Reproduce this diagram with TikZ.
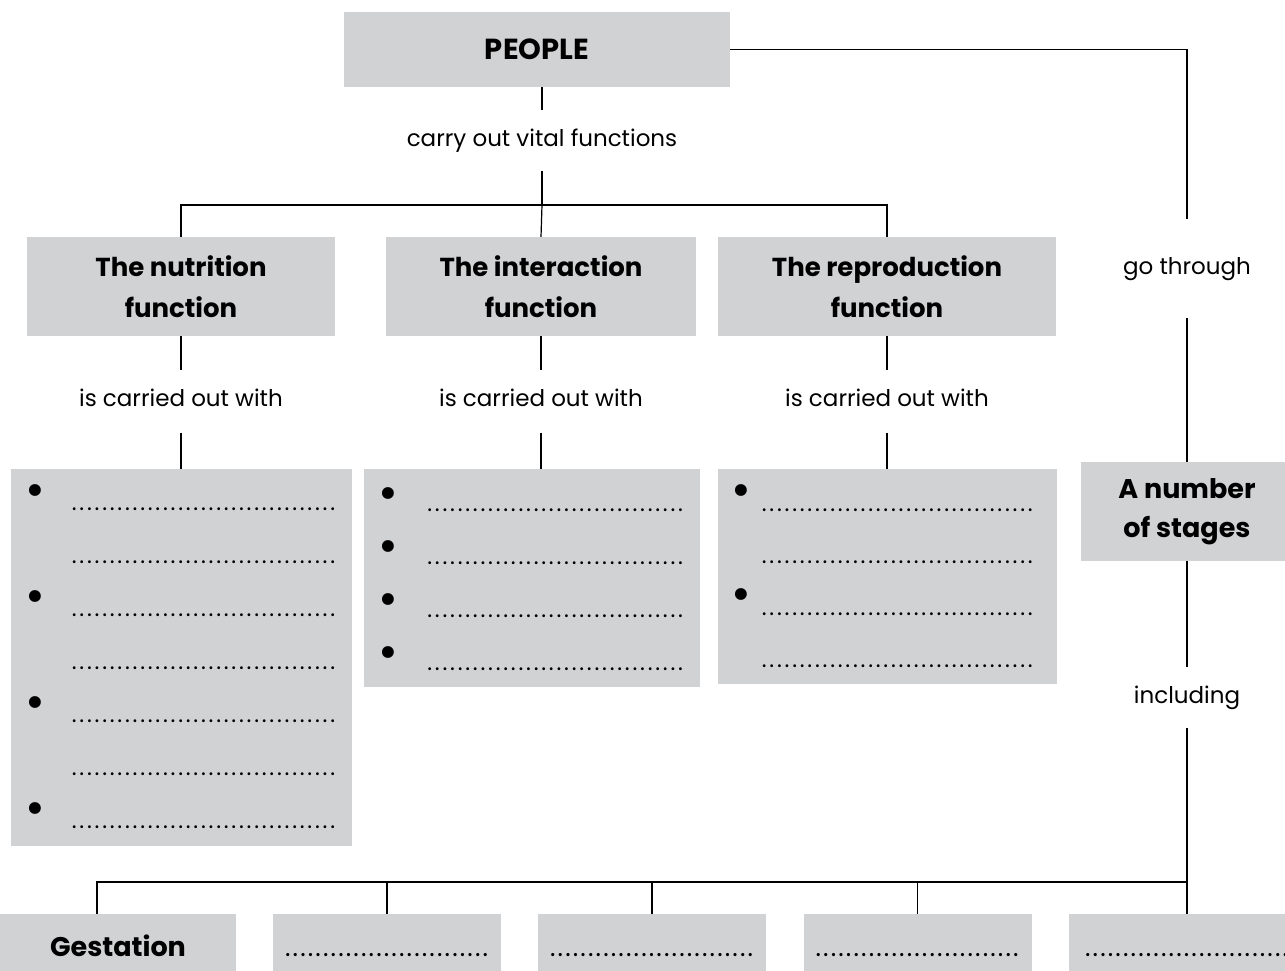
\documentclass[tikz,border=0pt]{standalone}
\usepackage{fontspec}
\setmainfont{Poppins}
\usetikzlibrary{positioning}
\usetikzlibrary{calc}

\definecolor{boxgray}{RGB}{209,210,212}

\newcommand{\blankline}[1]{\hbox to #1{\leaders\hbox to 7.6pt{\hss.\hss}\hfill}}

\tikzset{
  wire/.style = {line width = 1.2pt},
  concept/.style = {fill = boxgray, align = center, inner sep = 0,
    font = \bfseries\fontsize{26}{41}\selectfont},
  linkword/.style = {inner sep = 0, minimum height = 60,
    text height = 17pt, text depth = 6pt, font = \fontsize{23}{28}\selectfont},
  listbox/.style = {fill = boxgray, inner sep = 0},
  stagebox/.style = {concept, minimum width = 228, minimum height = 72,
    text height = 18pt, text depth = 5pt},
  dot/.style = {inner sep = 0, font = \fontsize{48}{48}\selectfont},
  blank/.style = {inner sep = 0, anchor = base west, font = \fontsize{23}{28}\selectfont}
}

\begin{document}
\begin{tikzpicture}[x = 1pt, y = 1pt]
  \clip (0, 0) rectangle (1285, -970);

  \node[concept, minimum width = 386, minimum height = 75, font = \bfseries\fontsize{29}{36}\selectfont]
  (people) at (537, -49.5) {PEOPLE};
  \node[linkword] (carry) at (542, -140.5) {carry out vital functions};
  \coordinate (split) at (542, -205);

  \node[concept, minimum width = 308, minimum height = 99] (nut) at (181, -286.5)
  {The nutrition\\function};
  \node[concept, minimum width = 310, minimum height = 99] (int) at (541, -286.5)
  {The interaction\\function};
  \node[concept, minimum width = 338, minimum height = 99] (rep) at (887, -286.5)
  {The reproduction\\function};

  \foreach \f in {nut, int, rep} {
    \node[linkword, minimum height = 62, below = 34 of \f] (\f w) {is carried out with};
    \draw[wire] (\f.south) -- (\f w.north);
  }

  \node[listbox, minimum width = 341, minimum height = 377, below = 36 of nutw] (nutlist) {};
  \node[listbox, minimum width = 336, minimum height = 218, below = 36 of intw, xshift = -9] (intlist) {};
  \node[listbox, minimum width = 339, minimum height = 215, below = 36 of repw] (replist) {};

  % nutrition list: four entries, three of them on two lines
  \foreach \r in {0, ..., 6}
    \node[blank] at ($(nutlist.north west) + (60, -42 - 53 * \r)$) {\blankline{268pt}};
  \foreach \r in {0, 2, 4, 6}
    \node[dot] at ($(nutlist.north west) + (25, -27 - 53 * \r)$) {\textbullet};

  % interaction list
  \foreach \r in {0, ..., 3} {
    \node[blank] at ($(intlist.north west) + (62, -43 - 53 * \r)$) {\blankline{264pt}};
    \node[dot] at ($(intlist.north west) + (25, -30 - 53 * \r)$) {\textbullet};
  }

  % reproduction list
  \foreach \r in {0, ..., 3}
    \node[blank] at ($(replist.north west) + (43, -43 - 52 * \r)$) {\blankline{280pt}};
  \foreach \r in {0, 2}
    \node[dot] at ($(replist.north west) + (24, -27 - 52 * \r)$) {\textbullet};

  \draw[wire] (people.south -| carry) -- (carry.north);
  \draw[wire] (carry.south) -- (split);
  \draw[wire] (nut.north) |- (split) -| (rep.north);
  \draw[wire] (split) -- (int.north);
  \draw[wire] (nutw.south) -- (nutlist.north);
  \draw[wire] (intw.south) -- (intw.south |- intlist.north);
  \draw[wire] (repw.south) -- (replist.north);

  % right branch
  \node[linkword, minimum height = 99] (through) at (1187, -268.5) {go through};
  \node[concept, minimum width = 212, minimum height = 99, font = \bfseries\fontsize{27}{39}\selectfont]
  (stages) at (1187, -511.5) {A number\\of stages};
  \node[linkword, minimum height = 61] (incl) at (1187, -697.5) {including};
  \coordinate (bus) at (1187, -882);

  \draw[wire] (people.east) -| (through.north);
  \draw[wire] (through.south) -- (stages.north);
  \draw[wire] (stages.south) -- (incl.north);

  % stages
  \node[stagebox, minimum width = 236, font = \bfseries\fontsize{27}{36}\selectfont] (gest) at (118, -950) {Gestation};
  \node[stagebox] (st2) at (387, -950) {\mdseries\blankline{206pt}};
  \node[stagebox] (st3) at (652, -950) {\mdseries\blankline{206pt}};
  \node[stagebox] (st4) at (917.5, -950) {\mdseries\blankline{206pt}};
  \node[stagebox, minimum width = 236] (st5) at (1187, -950) {\mdseries\blankline{206pt}};

  \draw[wire] (incl.south) -- (bus) -| ([xshift = -21] gest.north);
  \foreach \s in {st2, st3, st4, st5}
    \draw[wire] (\s.north) -- (\s.north |- bus);
\end{tikzpicture}
\end{document}
